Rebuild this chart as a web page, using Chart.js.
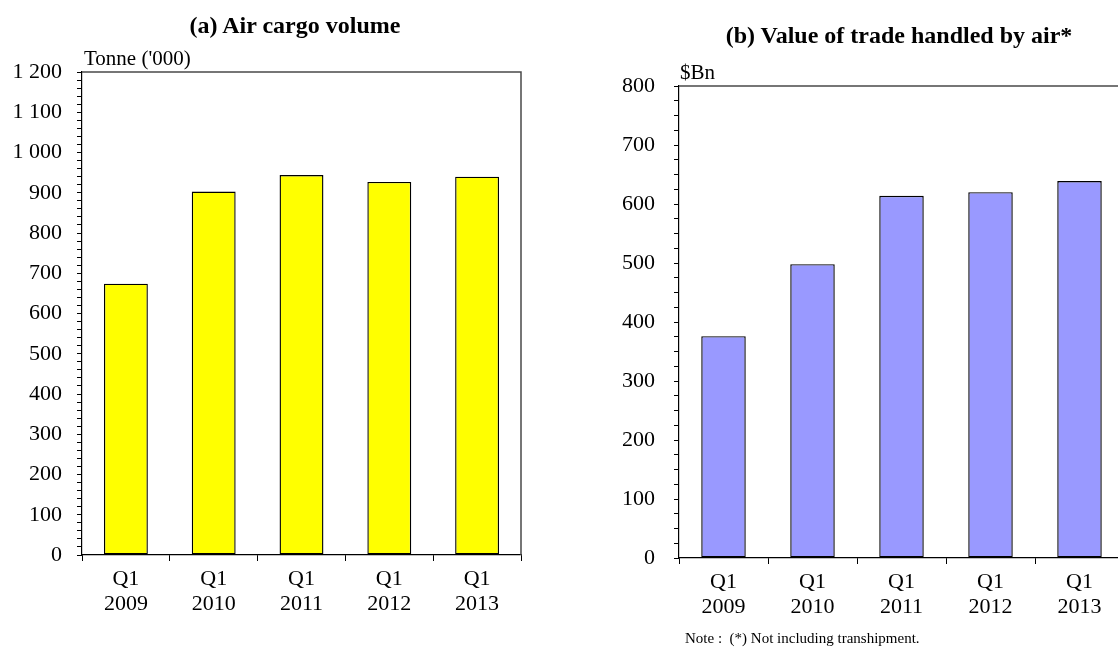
<!DOCTYPE html>
<html>
<head>
<meta charset="utf-8">
<script src="https://cdn.jsdelivr.net/npm/chart.js@4"></script>
<style>
  html, body { margin: 0; padding: 0; background: #fff; }
  body { width: 1118px; height: 647px; overflow: hidden; position: relative;
         font-family: "Liberation Serif", "Times New Roman", serif; color: #000; }
  canvas { position: absolute; top: 0; }
  .txt { position: absolute; white-space: nowrap; }
  .title { font-weight: bold; font-size: 24px; line-height: 28px; transform: translateX(-50%); }
  .unit { font-size: 21px; line-height: 24px; }
  .note { font-size: 15px; line-height: 18px; }
</style>
</head>
<body>
<canvas id="cargo" width="560" height="647" style="left:0;width:560px;height:647px"></canvas>
<canvas id="trade" width="600" height="647" style="left:560px;width:600px;height:647px"></canvas>

<div class="txt title" style="left:295px;top:11px">(a) Air cargo volume</div>
<div class="txt title" style="left:899px;top:21px">(b) Value of trade handled by air*</div>
<div class="txt unit" style="left:84px;top:46px">Tonne ('000)</div>
<div class="txt unit" style="left:680px;top:60px">$Bn</div>
<div class="txt note" style="left:685px;top:629px">Note :&nbsp; (*) Not including transhipment.</div>

<script>
// Quarters shown on both charts
const quarters = ['Q1', 'Q1', 'Q1', 'Q1', 'Q1'];
const years = ['2009', '2010', '2011', '2012', '2013'];

// (a) Air cargo volume, thousand tonnes
const cargoVolume = [674, 903, 944, 927, 940];

// (b) Value of trade handled by air, $ billion
const tradeValue = [376, 498, 614, 620, 639];

// Axis ranges: [min, max, minor step, labelled step]
const cargoAxis = [0, 1200, 20, 100];
const tradeAxis = [0, 800, 25, 100];

const categoryLabels = quarters.map((q, i) => [q, years[i]]);

Chart.defaults.font.family = '"Liberation Serif", "Times New Roman", serif';
Chart.defaults.color = '#000';

// Thin frame along the top and right of the plot area
const frame = {
  id: 'frame',
  afterDatasetsDraw(chart, args, opts) {
    const a = chart.chartArea, ctx = chart.ctx;
    ctx.save();
    ctx.strokeStyle = opts.color;
    ctx.lineWidth = opts.width;
    ctx.beginPath();
    ctx.moveTo(a.left, a.top);
    ctx.lineTo(a.right, a.top);
    ctx.lineTo(a.right, a.bottom);
    ctx.stroke();
    ctx.restore();
  }
};

function spaced(v) {
  return String(v).replace(/\B(?=(\d{3})+(?!\d))/g, ' ');
}

function makeChart(id, values, axis, fill, geo) {
  return new Chart(document.getElementById(id), {
    type: 'bar',
    data: {
      labels: categoryLabels,
      datasets: [{
        data: values,
        backgroundColor: fill,
        borderColor: '#000',
        borderWidth: 1.4,
        borderSkipped: false,
        categoryPercentage: 1,
        barPercentage: 0.5
      }]
    },
    options: {
      responsive: false,
      animation: false,
      devicePixelRatio: 1,
      layout: { padding: { top: geo.top, right: geo.right, left: 0, bottom: 0 } },
      plugins: { legend: { display: false }, tooltip: { enabled: false }, frame: { color: '#4a4a4a', width: 1.5 } },
      scales: {
        x: {
          offset: true,
          grid: { offset: true, drawOnChartArea: false, drawTicks: true, tickLength: 6, color: '#000' },
          border: { display: true, color: '#000', width: 1.2 },
          ticks: { font: { size: 22, lineHeight: 1.14 }, padding: 6, maxRotation: 0, autoSkip: false },
          afterFit(s) { s.height = geo.xh; }
        },
        y: {
          min: axis[0], max: axis[1],
          grid: { drawOnChartArea: false, drawTicks: true, tickLength: 5, color: '#000' },
          border: { display: true, color: '#000', width: 1.2 },
          ticks: {
            stepSize: axis[2],
            autoSkip: false,
            padding: geo.lp,
            font: { size: 22 },
            callback: v => (v % axis[3] === 0 ? spaced(v) : '')
          },
          afterFit(s) { s.width = geo.yw; }
        }
      }
    },
    plugins: [frame]
  });
}

makeChart('cargo', cargoVolume, cargoAxis, '#ffff00', { top: 72, right: 39, xh: 92, yw: 82, lp: 15 });
makeChart('trade', tradeValue, tradeAxis, '#9999ff', { top: 86, right: 36, xh: 89, yw: 119, lp: 19 });
</script>
</body>
</html>
